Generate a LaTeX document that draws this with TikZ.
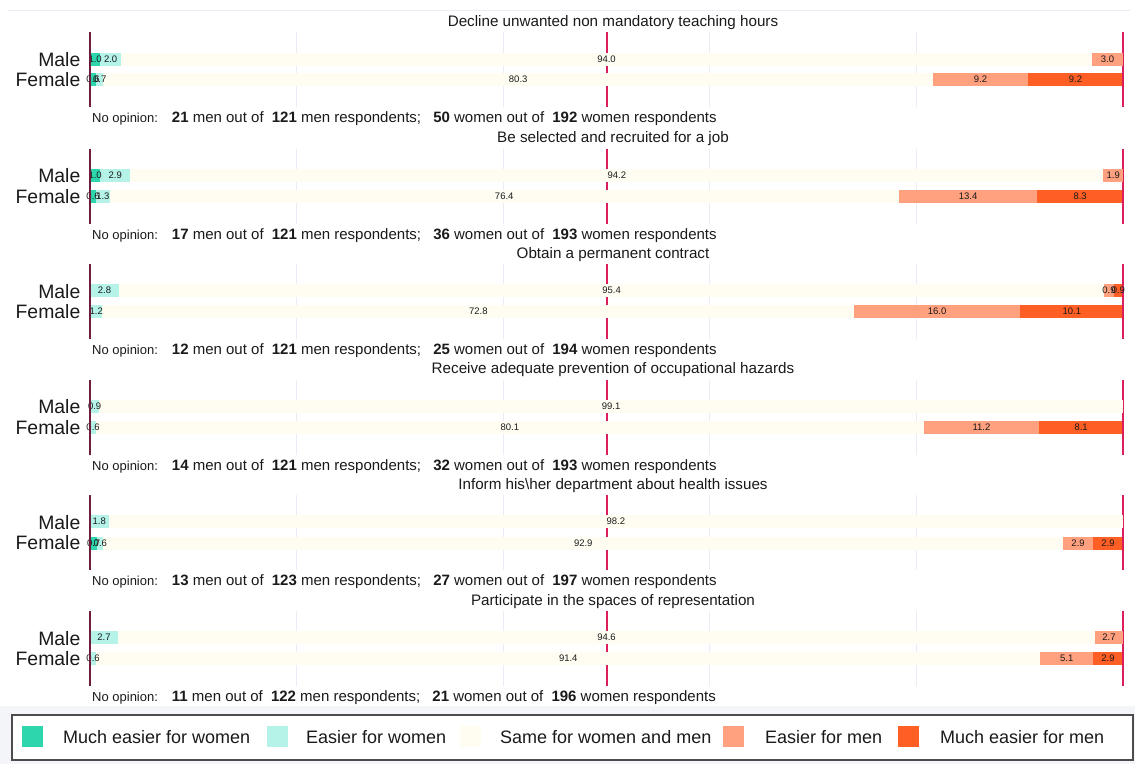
\documentclass[tikz,border=0pt]{standalone}
\usepackage{fontspec}
\setmainfont{Liberation Sans}
\definecolor{cMW}{HTML}{2ED6AE}
\definecolor{cEW}{HTML}{B5F2E8}
\definecolor{cSM}{HTML}{FFFDF2}
\definecolor{cEM}{HTML}{FFA07E}
\definecolor{cMM}{HTML}{FF5E24}
\definecolor{cLine}{HTML}{DC1E5A}
\definecolor{cLeft}{HTML}{6E1E3C}
\definecolor{cGrid}{HTML}{ECECF6}
\definecolor{cTxt}{HTML}{1A1A1A}
\definecolor{cBg}{HTML}{F3F5F9}
\tikzset{
  barlab/.style={font=\fontsize{9.5}{11}\selectfont, text=cTxt, inner sep=0pt},
  ptitle/.style={font=\fontsize{15.2}{18}\selectfont, text=cTxt, inner sep=0pt},
  sexlab/.style={font=\fontsize{19.4}{23}\selectfont, text=cTxt, inner sep=0pt, anchor=east},
  noop/.style={font=\fontsize{15}{18}\selectfont, text=cTxt, inner sep=0pt, anchor=base west},
  legtxt/.style={font=\fontsize{18}{21}\selectfont, text=cTxt, inner sep=0pt, anchor=west},
  gridln/.style={draw=cGrid, line width=0.8pt},
  midln/.style={draw=cLine, line width=2pt},
  leftln/.style={draw=cLeft, line width=2.5pt},
}
% #1 y centre, #2..#6 shares
\newcommand\drawbar[6]{%
  \pgfmathsetmacro\bpA{#2}%
  \pgfmathsetmacro\bpB{#2+#3}%
  \pgfmathsetmacro\bpC{#2+#3+#4}%
  \pgfmathsetmacro\bpD{#2+#3+#4+#5}%
  \pgfmathsetmacro\bpE{#2+#3+#4+#5+#6}%
  \ifdim#2pt>0pt \fill[cMW] (90,{#1-6.5}) rectangle ({90+10.33*\bpA},{#1+6.5});\fi
  \ifdim#3pt>0pt \fill[cEW] ({90+10.33*\bpA},{#1-6.5}) rectangle ({90+10.33*\bpB},{#1+6.5});\fi
  \ifdim#4pt>0pt \fill[cSM] ({90+10.33*\bpB},{#1-6.5}) rectangle ({90+10.33*\bpC},{#1+6.5});\fi
  \ifdim#5pt>0pt \fill[cEM] ({90+10.33*\bpC},{#1-6.5}) rectangle ({90+10.33*\bpD},{#1+6.5});\fi
  \ifdim#6pt>0pt \fill[cMM] ({90+10.33*\bpD},{#1-6.5}) rectangle ({min(1122,90+10.33*\bpE)},{#1+6.5});\fi
  \ifdim#2pt>0pt \node[barlab] at ({90+10.33*\bpA/2},#1) {#2};\fi
  \ifdim#3pt>0pt \node[barlab] at ({90+10.33*(\bpA+\bpB)/2},#1) {#3};\fi
  \ifdim#4pt>0pt \node[barlab] at ({90+10.33*(\bpB+\bpC)/2},#1) {#4};\fi
  \ifdim#5pt>0pt \node[barlab] at ({90+10.33*(\bpC+\bpD)/2},#1) {#5};\fi
  \ifdim#6pt>0pt \node[barlab] at ({90+10.33*(\bpD+\bpE)/2},#1) {#6};\fi
}
% #1 title y, #2 title, #3 name suffix
\newcommand\panelframe[3]{%
  \node[ptitle] (title#3) at (613,{#1+1.5}) {#2};
  \foreach \g in {20,40,60,80} \draw[gridln] ({90+10.33*\g},{#1+11}) -- ({90+10.33*\g},{#1+86});
  \draw[midln] (606.5,{#1+11}) -- (606.5,{#1+86});
  \draw[midln] (1123,{#1+11}) -- (1123,{#1+86});
  \node[sexlab] (male#3) at (80.5,{#1+38.5}) {Male};
  \node[sexlab] (female#3) at (80.5,{#1+59}) {Female};
}
\newcommand\axisleftln[1]{\draw[leftln] (90,{#1+11}) -- (90,{#1+86});}
\newcommand\noopinion[6]{%
  \node[noop] (noop#6) at (92,{#1+101.5}) {{\fontsize{13}{15}\selectfont No opinion:}\hspace{14pt}\textbf{#2} men out of\hspace{4pt} \textbf{#3} men respondents;\hspace{8pt} \textbf{#4} women out of\hspace{4pt} \textbf{#5} women respondents};
}
\begin{document}
\begin{tikzpicture}[x=1pt,y=-1pt]
\useasboundingbox (0,0) rectangle (1135,764);
\fill[white] (0,0) rectangle (1135,764);
\fill[cBg] (0,706) rectangle (1135,764);
\draw[cGrid, line width=0.6pt] (8,10) -- (1130,10);
% panel 1
\panelframe{21}{Decline unwanted non mandatory teaching hours}{a}
\drawbar{59}{1.0}{2.0}{94.0}{3.0}{0}
\drawbar{79.5}{0.6}{0.7}{80.3}{9.2}{9.2}
\axisleftln{21}
\noopinion{21}{21}{121}{50}{192}{a}
% panel 2
\panelframe{137.5}{Be selected and recruited for a job}{b}
\drawbar{175.5}{1.0}{2.9}{94.2}{1.9}{0}
\drawbar{196}{0.6}{1.3}{76.4}{13.4}{8.3}
\axisleftln{137.5}
\noopinion{137.5}{17}{121}{36}{193}{b}
% panel 3
\panelframe{253}{Obtain a permanent contract}{c}
\drawbar{290.5}{0}{2.8}{95.4}{0.9}{0.9}
\drawbar{311}{0}{1.2}{72.8}{16.0}{10.1}
\axisleftln{253}
\noopinion{253}{12}{121}{25}{194}{c}
% panel 4
\panelframe{368.5}{Receive adequate prevention of occupational hazards}{d}
\drawbar{406}{0}{0.9}{99.1}{0}{0}
\drawbar{427}{0}{0.6}{80.1}{11.2}{8.1}
\axisleftln{368.5}
\noopinion{368.5}{14}{121}{32}{193}{d}
% panel 5
\panelframe{484}{Inform his\textbackslash her department about health issues}{e}
\drawbar{521.5}{0}{1.8}{98.2}{0}{0}
\drawbar{543}{0.7}{0.6}{92.9}{2.9}{2.9}
\axisleftln{484}
\noopinion{484}{13}{123}{27}{197}{e}
% panel 6
\panelframe{600}{Participate in the spaces of representation}{f}
\drawbar{637.5}{0}{2.7}{94.6}{2.7}{0}
\drawbar{658}{0}{0.6}{91.4}{5.1}{2.9}
\axisleftln{600}
\noopinion{600}{11}{122}{21}{196}{f}
% legend
\node[draw=black!70, line width=1.2pt, fill=white, minimum width=1121pt, minimum height=45pt, inner sep=0pt] (legbox) at (572.5,737.5) {};
\fill[cMW] (22,726) rectangle (43,747);
\node[legtxt] (lg1) at (63,737) {Much easier for women};
\fill[cEW] (267,726) rectangle (288,747);
\node[legtxt] (lg2) at (306,737) {Easier for women};
\fill[cSM] (460,726) rectangle (481,747);
\node[legtxt] (lg3) at (500,737) {Same for women and men};
\fill[cEM] (723,726) rectangle (744,747);
\node[legtxt] (lg4) at (765,737) {Easier for men};
\fill[cMM] (898,726) rectangle (919,747);
\node[legtxt] (lg5) at (940,737) {Much easier for men};
\end{tikzpicture}
\end{document}
